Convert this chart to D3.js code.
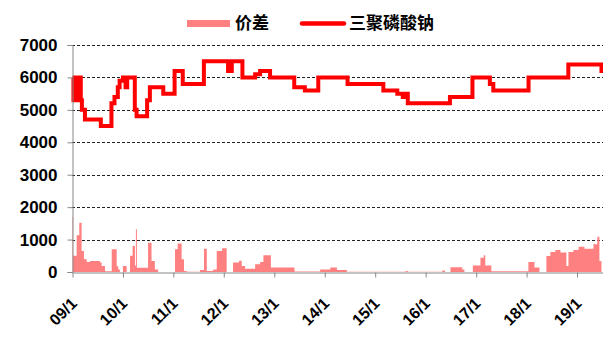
<!DOCTYPE html>
<html>
<head>
<meta charset="utf-8">
<script src="https://cdn.jsdelivr.net/npm/d3@7"></script>
<style>
  body { margin: 0; background: #fff; }
  text { font-family: Arial, "Liberation Sans", sans-serif; font-weight: bold; fill: #000; }
  .cjk { font-family: "Noto Sans CJK SC", sans-serif; }
</style>
</head>
<body>
<script>
'use strict'

// 三聚磷酸钠 price (step changes)
var priceDates = ['2009-01-01', '2009-01-08', '2009-01-16', '2009-01-24', '2009-02-02', '2009-02-12', '2009-02-22', '2009-03-02', '2009-03-10', '2009-04-01', '2009-07-25', '2009-10-10', '2009-11-01', '2009-11-25', '2009-12-08', '2010-01-01', '2010-01-20', '2010-02-01', '2010-03-28', '2010-04-10', '2010-06-25', '2010-07-15', '2010-10-20', '2011-01-10', '2011-03-10', '2011-08-10', '2012-02-01', '2012-02-28', '2012-05-15', '2012-08-15', '2012-09-20', '2012-12-01', '2013-05-25', '2013-08-10', '2013-11-15', '2014-06-15', '2015-03-01', '2015-06-10', '2015-07-20', '2015-08-01', '2015-08-25', '2016-06-25', '2016-12-05', '2017-04-10', '2017-05-05', '2018-01-15', '2018-10-30', '2019-06-27', '2019-07-08']
var priceValues = [6000, 5300, 6000, 5300, 5900, 5400, 6000, 5300, 5000, 4700, 4500, 5200, 5400, 5700, 5900, 6000, 5700, 6000, 5000, 4800, 5300, 5700, 5500, 6200, 5800, 6500, 6200, 6500, 6000, 6100, 6200, 6000, 5700, 5600, 6000, 5800, 5600, 5500, 5400, 5500, 5200, 5400, 6000, 5800, 5600, 6000, 6400, 6200, 6200]

// 价差 spread
var spreadDates = ['2009-01-01', '2009-01-05', '2009-01-31', '2009-02-19', '2009-03-08', '2009-03-25', '2009-04-14', '2009-05-08', '2009-07-19', '2009-07-31', '2009-08-24', '2009-10-12', '2009-11-17', '2009-11-28', '2009-12-10', '2010-01-01', '2010-01-28', '2010-02-21', '2010-03-12', '2010-03-29', '2010-04-05', '2010-04-12', '2010-07-02', '2010-07-27', '2010-08-20', '2010-09-13', '2011-01-13', '2011-02-01', '2011-03-02', '2011-03-19', '2011-04-08', '2011-07-13', '2011-08-11', '2011-08-31', '2011-10-16', '2011-11-11', '2011-12-20', '2012-01-22', '2012-03-08', '2012-04-20', '2012-05-10', '2012-06-03', '2012-08-15', '2012-09-20', '2012-10-14', '2012-12-07', '2013-05-27', '2013-11-29', '2014-02-10', '2014-03-30', '2014-06-10', '2015-08-10', '2015-08-25', '2016-05-01', '2016-05-20', '2016-06-29', '2016-09-22', '2016-10-08', '2016-12-08', '2017-02-01', '2017-02-25', '2017-03-08', '2017-04-21', '2018-01-14', '2018-02-27', '2018-04-04', '2018-05-24', '2018-06-22', '2018-07-28', '2018-09-03', '2018-10-16', '2018-10-31', '2018-12-06', '2019-01-12', '2019-02-24', '2019-04-30', '2019-05-28', '2019-06-12', '2019-06-27']
var spreadValues = [1700, 500, 1130, 1520, 650, 390, 310, 340, 290, 185, 20, 700, 180, 80, 0, 185, 0, 500, 800, 200, 1320, 130, 900, 340, 80, 0, 700, 880, 390, 30, 10, 60, 720, 30, 80, 650, 730, 0, 290, 350, 185, 100, 240, 310, 515, 135, 15, 80, 135, 60, 10, 30, 10, 50, 0, 150, 80, 0, 200, 440, 515, 200, 25, 310, 135, 0, 490, 620, 680, 600, 185, 620, 680, 780, 720, 855, 1090, 340, 0]

var yTicks = [0, 1000, 2000, 3000, 4000, 5000, 6000, 7000]
var xTickYears = ['2009-01-01', '2010-01-01', '2011-01-01', '2012-01-01', '2013-01-01', '2014-01-01', '2015-01-01', '2016-01-01', '2017-01-01', '2018-01-01', '2019-01-01']
var legendLabels = ['价差', '三聚磷酸钠']

var W = 603
var H = 340
var parse = d3.timeParse('%Y-%m-%d')

var svg = d3.select('body').append('svg')
  .attr('width', W)
  .attr('height', H)

var x = d3.scaleTime()
  .domain([parse('2009-01-01'), parse('2019-07-08')])
  .range([72.5, 603])

var y = d3.scaleLinear()
  .domain([0, 7000])
  .range([272, 45])

var price = priceDates.map(function (d, i) { return { date: parse(d), value: priceValues[i] } })
var spread = spreadDates.map(function (d, i) { return { date: parse(d), value: spreadValues[i] } })

// gridlines
svg.append('g').selectAll('line')
  .data(yTicks.filter(function (v) { return v > 0 }))
  .enter().append('line')
  .attr('x1', 72).attr('x2', W)
  .attr('y1', function (d) { return Math.round(y(d)) + 0.5 })
  .attr('y2', function (d) { return Math.round(y(d)) + 0.5 })
  .attr('stroke', '#222')
  .attr('stroke-dasharray', '3,2')

// spread area
var area = d3.area()
  .curve(d3.curveStepAfter)
  .x(function (d) { return x(d.date) })
  .y0(y(0))
  .y1(function (d) { return y(d.value) })

svg.append('path')
  .datum(spread)
  .attr('d', area)
  .attr('fill', '#FF8080')

// price line
var line = d3.line()
  .curve(d3.curveStepAfter)
  .x(function (d) { return x(d.date) })
  .y(function (d) { return y(d.value) })

svg.append('path')
  .datum(price)
  .attr('d', line)
  .attr('fill', 'none')
  .attr('stroke', '#FF0000')
  .attr('stroke-width', 4)

// y axis
var yAxis = svg.append('g')
  .attr('transform', 'translate(72.5,0)')
  .call(d3.axisLeft(y).tickValues(yTicks).tickSize(5).tickPadding(10).tickFormat(d3.format('d')))
yAxis.select('.domain').attr('stroke', '#888')
yAxis.selectAll('.tick line').attr('stroke', '#888')
yAxis.selectAll('.tick text').style('font-size', '17px')

// x axis
var xAxis = svg.append('g')
  .attr('transform', 'translate(0,272.5)')
  .call(d3.axisBottom(x).tickValues(xTickYears.map(parse)).tickSize(5).tickSizeOuter(0).tickFormat(d3.timeFormat('%y/1')))
xAxis.select('.domain').attr('stroke', '#888')
xAxis.selectAll('.tick line').attr('stroke', '#888')
xAxis.selectAll('.tick text')
  .style('font-size', '16px')
  .attr('text-anchor', 'end')
  .attr('transform', 'translate(1,28) rotate(-45)')
  .attr('dy', '0.35em')
  .attr('y', 0)
  .attr('x', 0)

// legend
var legend = svg.append('g').attr('transform', 'translate(0,23.5)')
legend.append('rect')
  .attr('x', 187).attr('y', -3.5)
  .attr('width', 43).attr('height', 7)
  .attr('fill', '#FF8080')
legend.append('text')
  .attr('class', 'cjk')
  .attr('x', 235).attr('dy', '0.35em')
  .style('font-size', '17px')
  .text(legendLabels[0])
legend.append('line')
  .attr('x1', 302).attr('x2', 344)
  .attr('stroke', '#FF0000')
  .attr('stroke-width', 4.5)
  .attr('stroke-linecap', 'round')
legend.append('text')
  .attr('class', 'cjk')
  .attr('x', 349).attr('dy', '0.35em')
  .style('font-size', '17px')
  .text(legendLabels[1])
</script>
</body>
</html>
